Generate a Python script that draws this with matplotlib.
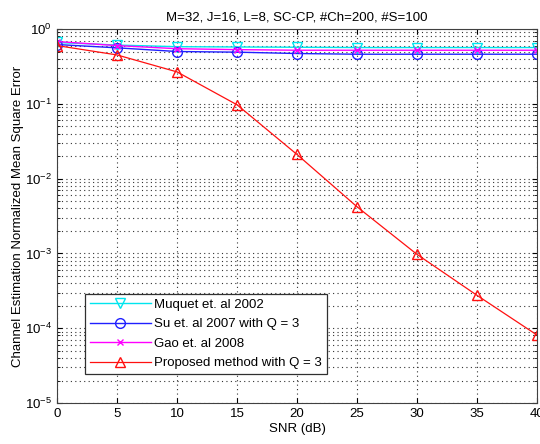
import matplotlib
matplotlib.use("Agg")
import matplotlib.pyplot as plt
from matplotlib.ticker import LogLocator, NullFormatter

plt.rcParams['font.family'] = ['Liberation Sans', 'DejaVu Sans']
plt.rcParams['mathtext.fontset'] = 'custom'
plt.rcParams['mathtext.rm'] = 'Liberation Sans'

snr = [0, 5, 10, 15, 20, 25, 30, 35, 40]
muquet = [0.66, 0.61, 0.58, 0.575, 0.57, 0.565, 0.565, 0.565, 0.565]
su = [0.62, 0.56, 0.50, 0.49, 0.47, 0.46, 0.46, 0.46, 0.46]
gao = [0.68, 0.60, 0.545, 0.53, 0.52, 0.52, 0.52, 0.52, 0.52]
proposed = [0.60, 0.45, 0.267, 0.097, 0.021, 0.0042, 0.00097, 0.000275, 0.000081]

labels = ["Muquet et. al 2002", "Su et. al 2007 with Q = 3",
          "Gao et. al 2008", "Proposed method with Q = 3"]
title = "M=32, J=16, L=8, SC-CP, #Ch=200, #S=100"

fs = 9.5
fig = plt.figure(figsize=(5.4, 4.44), dpi=100)
ax = fig.add_axes([0.1056, 0.0923, 0.8889, 0.8424])

ax.semilogy(snr, muquet, color='#00e5ee', marker='v', mfc='none', ms=7, lw=1, label=labels[0])
ax.semilogy(snr, su, color='#2020ff', marker='o', mfc='none', ms=7, lw=1, label=labels[1])
ax.semilogy(snr, gao, color='#ff00ff', marker='x', ms=5, lw=1, label=labels[2])
ax.semilogy(snr, proposed, color='#ff1010', marker='^', mfc='none', ms=7, lw=0.9, label=labels[3])

ax.set_xlim(0, 40)
ax.set_ylim(1e-5, 1)
ax.set_xticks(snr)
ax.yaxis.set_major_locator(LogLocator(base=10, numticks=10))
ax.yaxis.set_minor_locator(LogLocator(base=10, subs=range(2, 10), numticks=20))
ax.yaxis.set_minor_formatter(NullFormatter())
ax.grid(True, which='major', linestyle=(0, (1, 3)), color='#333333', lw=0.8)
ax.grid(True, which='minor', axis='y', linestyle=(0, (1, 3)), color='#333333', lw=0.8)
ax.tick_params(which='both', direction='in', top=True, right=True, labelsize=fs)
ax.tick_params(which='minor', length=2)
for s in ax.spines.values():
    s.set_color('#404040')

ax.set_xlabel("SNR (dB)", fontsize=fs, labelpad=2)
ax.set_ylabel("Channel Estimation Normalized Mean Square Error", fontsize=fs, labelpad=1)
ax.set_title(title, fontsize=fs, pad=6)

leg = ax.legend(loc='lower left', bbox_to_anchor=(0.045, 0.06), fontsize=fs,
                fancybox=False, framealpha=1, edgecolor='#303030', borderpad=0.35,
                handlelength=4.6, handletextpad=0.3, labelspacing=0.55)
leg.get_frame().set_linewidth(0.9)

fig.savefig("out.png", dpi=100)
